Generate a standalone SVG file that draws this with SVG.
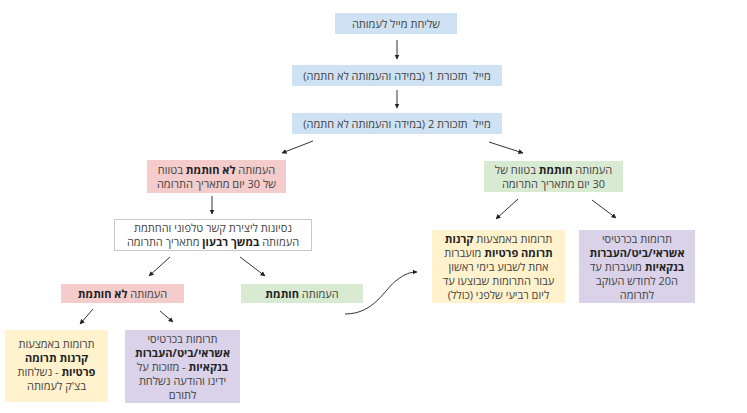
<svg xmlns="http://www.w3.org/2000/svg" width="747" height="413" viewBox="0 0 747 413">
<defs>
<marker id="ah" viewBox="0 0 10 10" refX="9" refY="5" markerWidth="5" markerHeight="5" orient="auto" markerUnits="userSpaceOnUse">
<path d="M0,0 L10,5 L0,10 z" fill="#222"/>
</marker>
</defs>
<style>
text{font-family:"Open Sans","Liberation Sans","DejaVu Sans",sans-serif;font-size:11px;fill:#434343;direction:rtl;text-anchor:middle;}
.pre{white-space:pre;}
.b{font-weight:bold;fill:#222;}
.blue{fill:#cfe2f3;}
.pink{fill:#f4cccc;}
.green{fill:#d9ead3;}
.yellow{fill:#fff2cc;}
.purple{fill:#d9d2e9;}
.white{fill:#fff;stroke:#c8c8c8;stroke-width:1;}
.c{fill:none;stroke:#333;stroke-width:1;marker-end:url(#ah);}
</style>
<rect width="747" height="413" fill="#fff"/>
<g id="connectors">
<line class="c" x1="397" y1="40" x2="397" y2="59"/>
<line class="c" x1="397" y1="90" x2="397" y2="108"/>
<line class="c" x1="313" y1="141" x2="282" y2="153"/>
<line class="c" x1="489" y1="142" x2="523" y2="153"/>
<line class="c" x1="212" y1="196" x2="212" y2="214"/>
<line class="c" x1="518" y1="199" x2="496" y2="219"/>
<line class="c" x1="592" y1="200" x2="616" y2="218"/>
<line class="c" x1="170" y1="257" x2="149" y2="276"/>
<line class="c" x1="240" y1="257" x2="265" y2="276"/>
<line class="c" x1="93" y1="309" x2="80" y2="324"/>
<line class="c" x1="160" y1="311" x2="173" y2="322"/>
<path class="c" d="M345,314 C375,314 385,288 397,280 C405,274 410,272 417,272"/>
</g>
<g id="n1"><rect class="blue" x="335" y="13" width="122" height="21"/><text x="396" y="27.5">שליחת מייל לעמותה</text></g>
<g id="n2"><rect class="blue" x="292" y="65" width="210" height="21"/><text class="pre" x="397" y="79.5" xml:space="preserve">מייל  תזכורת 1 (במידה והעמותה לא חתמה)</text></g>
<g id="n3"><rect class="blue" x="292" y="113" width="210" height="21"/><text class="pre" x="397" y="127.5" xml:space="preserve">מייל  תזכורת 2 (במידה והעמותה לא חתמה)</text></g>
<g id="n4"><rect class="pink" x="147" y="160" width="139" height="33"/>
<text x="216.5" y="174">העמותה <tspan class="b">לא חותמת</tspan> בטווח</text>
<text x="216.5" y="188">של 30 יום מתאריך התרומה</text></g>
<g id="n5"><rect class="green" x="484" y="161" width="139" height="31"/>
<text x="553.5" y="174">העמותה <tspan class="b">חותמת</tspan> בטווח של</text>
<text x="553.5" y="188">30 יום מתאריך התרומה</text></g>
<g id="n6"><rect class="white" x="114.5" y="219.5" width="197" height="31"/>
<text x="213" y="232">נסיונות ליצירת קשר טלפוני והחתמת</text>
<text x="213" y="246">העמותה <tspan class="b">במשך רבעון</tspan> מתאריך התרומה</text></g>
<g id="n7"><rect class="yellow" x="432" y="230" width="133" height="73"/>
<text x="498.5" y="243">תרומות באמצעות <tspan class="b">קרנות</tspan></text>
<text x="498.5" y="257"><tspan class="b">תרומה פרטיות</tspan> מועברות</text>
<text x="498.5" y="271">אחת לשבוע בימי ראשון</text>
<text x="498.5" y="285">עבור התרומות שבוצעו עד</text>
<text x="498.5" y="299">ליום רביעי שלפני (כולל)</text></g>
<g id="n8"><rect class="purple" x="579" y="230" width="116" height="73"/>
<text x="637" y="243">תרומות בכרטיסי</text>
<text x="637" y="257" class="b">אשראי/ביט/העברות</text>
<text x="637" y="271"><tspan class="b">בנקאיות</tspan> מועברות עד</text>
<text x="637" y="285">ה20 לחודש העוקב</text>
<text x="637" y="299">לתרומה</text></g>
<g id="n9"><rect class="pink" x="61" y="284" width="123" height="19"/>
<text x="122.5" y="297.5">העמותה <tspan class="b">לא חותמת</tspan></text></g>
<g id="n10"><rect class="green" x="241" y="284" width="122" height="19"/>
<text x="302" y="297.5">העמותה <tspan class="b">חותמת</tspan></text></g>
<g id="n11"><rect class="yellow" x="5" y="330" width="103" height="72"/>
<text x="56.5" y="348">תרומות באמצעות</text>
<text x="56.5" y="362" class="b">קרנות תרומה</text>
<text x="56.5" y="376"><tspan class="b">פרטיות</tspan> - נשלחות</text>
<text x="56.5" y="390">בצ'ק לעמותה</text></g>
<g id="n12"><rect class="purple" x="125" y="330" width="115" height="73"/>
<text x="182.5" y="343">תרומות בכרטיסי</text>
<text x="182.5" y="357" class="b">אשראי/ביט/העברות</text>
<text x="182.5" y="371"><tspan class="b">בנקאיות</tspan> - מזוכות על</text>
<text x="182.5" y="385">ידינו והודעה נשלחת</text>
<text x="182.5" y="399">לתורם</text></g>
</svg>
